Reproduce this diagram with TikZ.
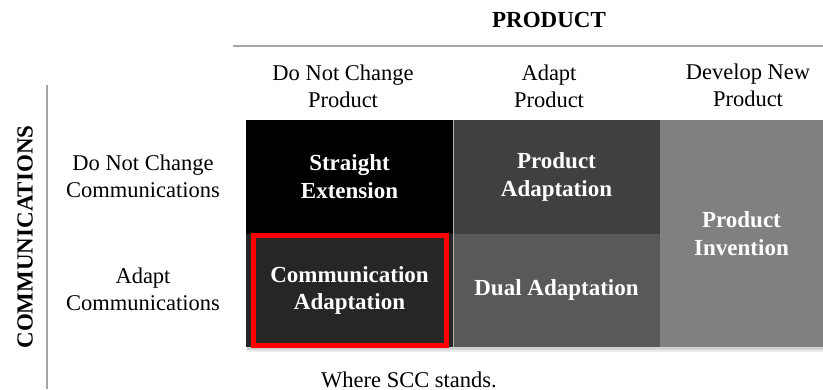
\documentclass[tikz,border=0pt]{standalone}
\usepackage{fontspec}
\setmainfont{Liberation Serif}
\usetikzlibrary{positioning}
\tikzset{
  cell/.style={minimum width=207pt, minimum height=113.5pt, inner sep=0pt,
    outer sep=0pt, align=center, text=white,
    font=\fontsize{23}{27.5}\selectfont\bfseries},
  lbl/.style={align=center, font=\fontsize{22.5}{27}\selectfont},
  head/.style={font=\fontsize{23}{27}\selectfont\bfseries},
  rule/.style={draw=black!35, line width=2.5pt},
  hilite/.style={draw=red, line width=5pt},
}
\begin{document}
\begin{tikzpicture}[x=1pt,y=-1pt]
	\useasboundingbox (0,0) rectangle (823,389);
	% soft shadow under the grid
	\fill [black!8] (247,124) rectangle (823,352);
	\fill [black!18] (247,122) rectangle (823,349.5);
	% grid
	\node [cell, fill=black, anchor=north west] (se) at (246,120) {Straight\\Extension};
	\node [cell, fill=black!75, right=0pt of se] (pa) {Product\\Adaptation};
	\node [cell, fill=black!85, below=0pt of se] (ca) {Communication\\Adaptation};
	\node [cell, fill=black!65, below=0pt of pa] (da) {Dual Adaptation};
	\node [cell, fill=black!50, minimum width=163pt, minimum height=227pt,
		anchor=north west] (pi) at (pa.north east) {Product\\Invention};
	\draw [black!30, line width=0.6pt] (se.north east) -- (ca.south east);
	\draw [hilite] ([xshift=7pt,yshift=-2pt]ca.north west) rectangle ([xshift=-7pt,yshift=1.5pt]ca.south east);
	% headings
	\node [head] (prod) at (549,20) {PRODUCT};
	\coordinate (ps) at (233,46);
	\coordinate (pe) at (823,46);
	\draw [rule] (ps) -- (pe);
	\node [lbl] (h1) at (343,86.5) {Do Not Change\\Product};
	\node [lbl] (h2) at (549,86.5) {Adapt\\Product};
	\node [lbl] (h3) at (748,85.5) {Develop New\\Product};
	\node [head, rotate=90] (comm) at (25,237) {COMMUNICATIONS};
	\coordinate (cs) at (47,85);
	\coordinate (ce) at (47,389);
	\draw [rule] (cs) -- (ce);
	\node [lbl] (r1) at (143,176.5) {Do Not Change\\Communications};
	\node [lbl] (r2) at (143,289.5) {Adapt\\Communications};
	\node [lbl] (cap) at (409,379.5) {Where SCC stands.};
\end{tikzpicture}
\end{document}
